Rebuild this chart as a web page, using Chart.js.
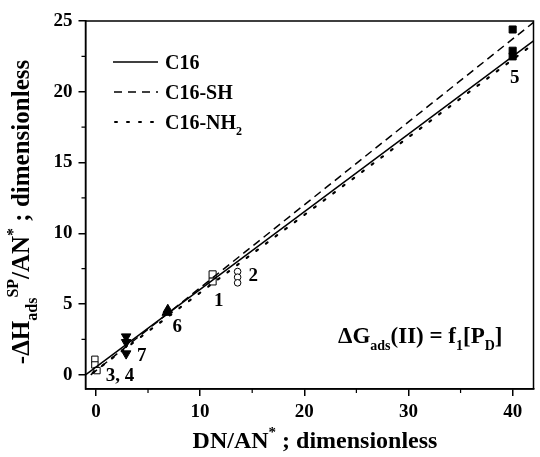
<!DOCTYPE html>
<html>
<head>
<meta charset="utf-8">
<script src="https://cdn.jsdelivr.net/npm/chart.js@4.4.1/dist/chart.umd.min.js"></script>
<style>
  body { margin: 0; background: #fff; }
  #wrap { width: 540px; height: 457px; }
</style>
</head>
<body>
<div id="wrap"><canvas id="chart" width="540" height="457"></canvas></div>
<script>
// Trục
const xTicks = [0, 10, 20, 30, 40];
const xMinor = [5, 15, 25, 35];
const yTicks = [0, 5, 10, 15, 20, 25];
const yMinor = [2.5, 7.5, 12.5, 17.5, 22.5];

// Đường hồi quy
const c16X = [-1, 42];
const c16Y = [0.0, 23.6];
const shX = [-0.5, 42];
const shY = [0.0, 24.9];
const nh2X = [-0.3, 41.5];
const nh2Y = [0.15, 23.1];

// Điểm đo
const p1X = [11.2, 11.2];
const p1Y = [6.6, 7.1];
const p2X = [13.6, 13.6, 13.6];
const p2Y = [7.3, 6.9, 6.5];
const p34X = [-0.1, -0.1, 0.1];
const p34Y = [1.1, 0.7, 0.3];
const p5X = [40, 40, 40];
const p5Y = [24.4, 22.9, 22.5];
const p6X = [6.8, 6.9];
const p6Y = [4.4, 4.6];
const p7X = [2.9, 2.9, 2.9];
const p7Y = [2.7, 2.3, 1.5];

// Nhãn điểm
const pointLabels = ['1', '2', '3, 4', '5', '6', '7'];
const pointLabelX = [11.8, 15.1, 2.3, 40.2, 7.8, 4.4];
const pointLabelY = [5.2, 6.95, -0.07, 21.0, 3.4, 1.3];

const FONT = '"Liberation Serif", "Times New Roman", serif';
const pts = (xs, ys) => xs.map((x, i) => ({ x, y: ys[i] }));

// Vẽ chữ có chỉ số trên/dưới
function drawRich(ctx, parts, x, y, size, align) {
    const sub = Math.round(size * 0.62);
    const widths = parts.map(([t, m]) => {
        ctx.font = `bold ${m ? sub : size}px ${FONT}`;
        return ctx.measureText(t).width;
    });
    const total = widths.reduce((a, b) => a + b, 0);
    let cx = align === 'center' ? x - total / 2 : x;
    ctx.textBaseline = 'alphabetic';
    ctx.textAlign = 'left';
    parts.forEach(([t, m], i) => {
        ctx.font = `bold ${m ? sub : size}px ${FONT}`;
        let dy = 0;
        if (m === 1) dy = size * 0.3;
        if (m === 2) dy = -size * 0.45;
        ctx.fillText(t, cx, y + dy);
        cx += widths[i];
    });
}

const decor = {
    id: 'decor',
    afterDraw(chart) {
        const ctx = chart.ctx;
        const a = chart.chartArea;
        const xs = chart.scales.x, ys = chart.scales.y;
        ctx.save();
        ctx.strokeStyle = '#000';
        ctx.fillStyle = '#000';
        ctx.lineWidth = 1.5;
        ctx.strokeRect(a.left, a.top, a.right - a.left, a.bottom - a.top);

        // vạch phụ
        ctx.lineWidth = 1.2;
        ctx.beginPath();
        xMinor.forEach(v => {
            const px = xs.getPixelForValue(v);
            ctx.moveTo(px, a.bottom);
            ctx.lineTo(px, a.bottom + 4);
        });
        yMinor.forEach(v => {
            const py = ys.getPixelForValue(v);
            ctx.moveTo(a.left, py);
            ctx.lineTo(a.left - 4, py);
        });
        ctx.stroke();

        // tiêu đề trục
        drawRich(ctx, [['DN/AN', 0], ['*', 2], [' ; dimensionless', 0]], 315, 448, 24, 'center');
        ctx.save();
        ctx.translate(29, 212);
        ctx.rotate(-Math.PI / 2);
        drawRich(ctx, [['-\u0394H', 0], ['ads', 1], ['SP', 2], ['/AN', 0], ['*', 2], [' ; dimensionless', 0]], 0, 0, 25, 'center');
        ctx.restore();

        // chú giải
        ctx.lineWidth = 1.5;
        const legY = [62, 92, 122];
        ctx.beginPath(); ctx.moveTo(113, legY[0]); ctx.lineTo(158, legY[0]); ctx.stroke();
        ctx.setLineDash([8, 6]);
        ctx.beginPath(); ctx.moveTo(114, legY[1]); ctx.lineTo(158, legY[1]); ctx.stroke();
        ctx.setLineDash([2, 10]);
        ctx.lineCap = 'round';
        ctx.lineWidth = 2;
        ctx.beginPath(); ctx.moveTo(115, legY[2]); ctx.lineTo(158, legY[2]); ctx.stroke();
        ctx.setLineDash([]);
        ctx.lineCap = 'butt';
        drawRich(ctx, [['C16', 0]], 165, legY[0] + 7, 20, 'left');
        drawRich(ctx, [['C16-SH', 0]], 165, legY[1] + 7, 20, 'left');
        drawRich(ctx, [['C16-NH', 0], ['2', 1]], 165, legY[2] + 7, 20, 'left');

        // công thức
        drawRich(ctx, [['\u0394G', 0], ['ads', 1], ['(II) = f', 0], ['1', 1], ['[P', 0], ['D', 1], [']', 0]], 338, 343, 23, 'left');

        // nhãn điểm
        ctx.font = `bold 19px ${FONT}`;
        ctx.textAlign = 'center';
        ctx.textBaseline = 'middle';
        pointLabels.forEach((t, i) => {
            ctx.fillText(t, xs.getPixelForValue(pointLabelX[i]), ys.getPixelForValue(pointLabelY[i]));
        });
        ctx.restore();
    }
};

const lineDs = (xs, ys, dash, width) => ({
    type: 'line',
    data: pts(xs, ys),
    borderColor: '#000',
    borderWidth: width,
    borderDash: dash,
    borderCapStyle: dash.length && dash[0] < 4 ? 'round' : 'butt',
    pointRadius: 0,
    fill: false,
    tension: 0
});

const scatterDs = (xs, ys, style, r, filled, rot) => ({
    type: 'scatter',
    data: pts(xs, ys),
    pointStyle: style,
    pointRadius: r,
    pointRotation: rot || 0,
    pointBorderColor: '#000',
    pointBackgroundColor: filled ? '#000' : '#fff',
    pointBorderWidth: 1
});

new Chart(document.getElementById('chart'), {
    data: {
        datasets: [
            lineDs(c16X, c16Y, [], 1.5),
            lineDs(shX, shY, [8, 5], 1.5),
            lineDs(nh2X, nh2Y, [2, 10], 2.2),
            scatterDs(p1X, p1Y, 'rect', 5, false),
            scatterDs(p2X, p2Y, 'circle', 3.3, false),
            scatterDs(p34X, p34Y, 'rect', 4.5, false),
            scatterDs(p5X, p5Y, 'rect', 5, true),
            scatterDs(p6X, p6Y, 'triangle', 5.5, true),
            scatterDs(p7X, p7Y, 'triangle', 5.5, true, 180)
        ]
    },
    options: {
        responsive: false,
        animation: false,
        devicePixelRatio: 1,
        layout: { padding: { left: 0, top: 21, right: 3, bottom: 0 } },
        plugins: { legend: { display: false }, tooltip: { enabled: false } },
        scales: {
            x: {
                type: 'linear',
                min: -1,
                max: 42,
                afterBuildTicks: s => { s.ticks = xTicks.map(v => ({ value: v })); },
                afterFit: s => { s.height = 68; },
                grid: { drawOnChartArea: false, drawTicks: true, tickLength: 7, color: '#000', lineWidth: 1.5 },
                border: { display: true, color: '#000', width: 1.5 },
                ticks: { color: '#000', font: { family: FONT, size: 19, weight: 'bold' }, padding: 5, maxRotation: 0 }
            },
            y: {
                type: 'linear',
                min: -1,
                max: 25,
                afterBuildTicks: s => { s.ticks = yTicks.map(v => ({ value: v })); },
                afterFit: s => { s.width = 85.5; },
                grid: { drawOnChartArea: false, drawTicks: true, tickLength: 7, color: '#000', lineWidth: 1.5 },
                border: { display: true, color: '#000', width: 1.5 },
                ticks: { color: '#000', font: { family: FONT, size: 19, weight: 'bold' }, padding: 6 }
            }
        }
    },
    plugins: [decor]
});
</script>
</body>
</html>
